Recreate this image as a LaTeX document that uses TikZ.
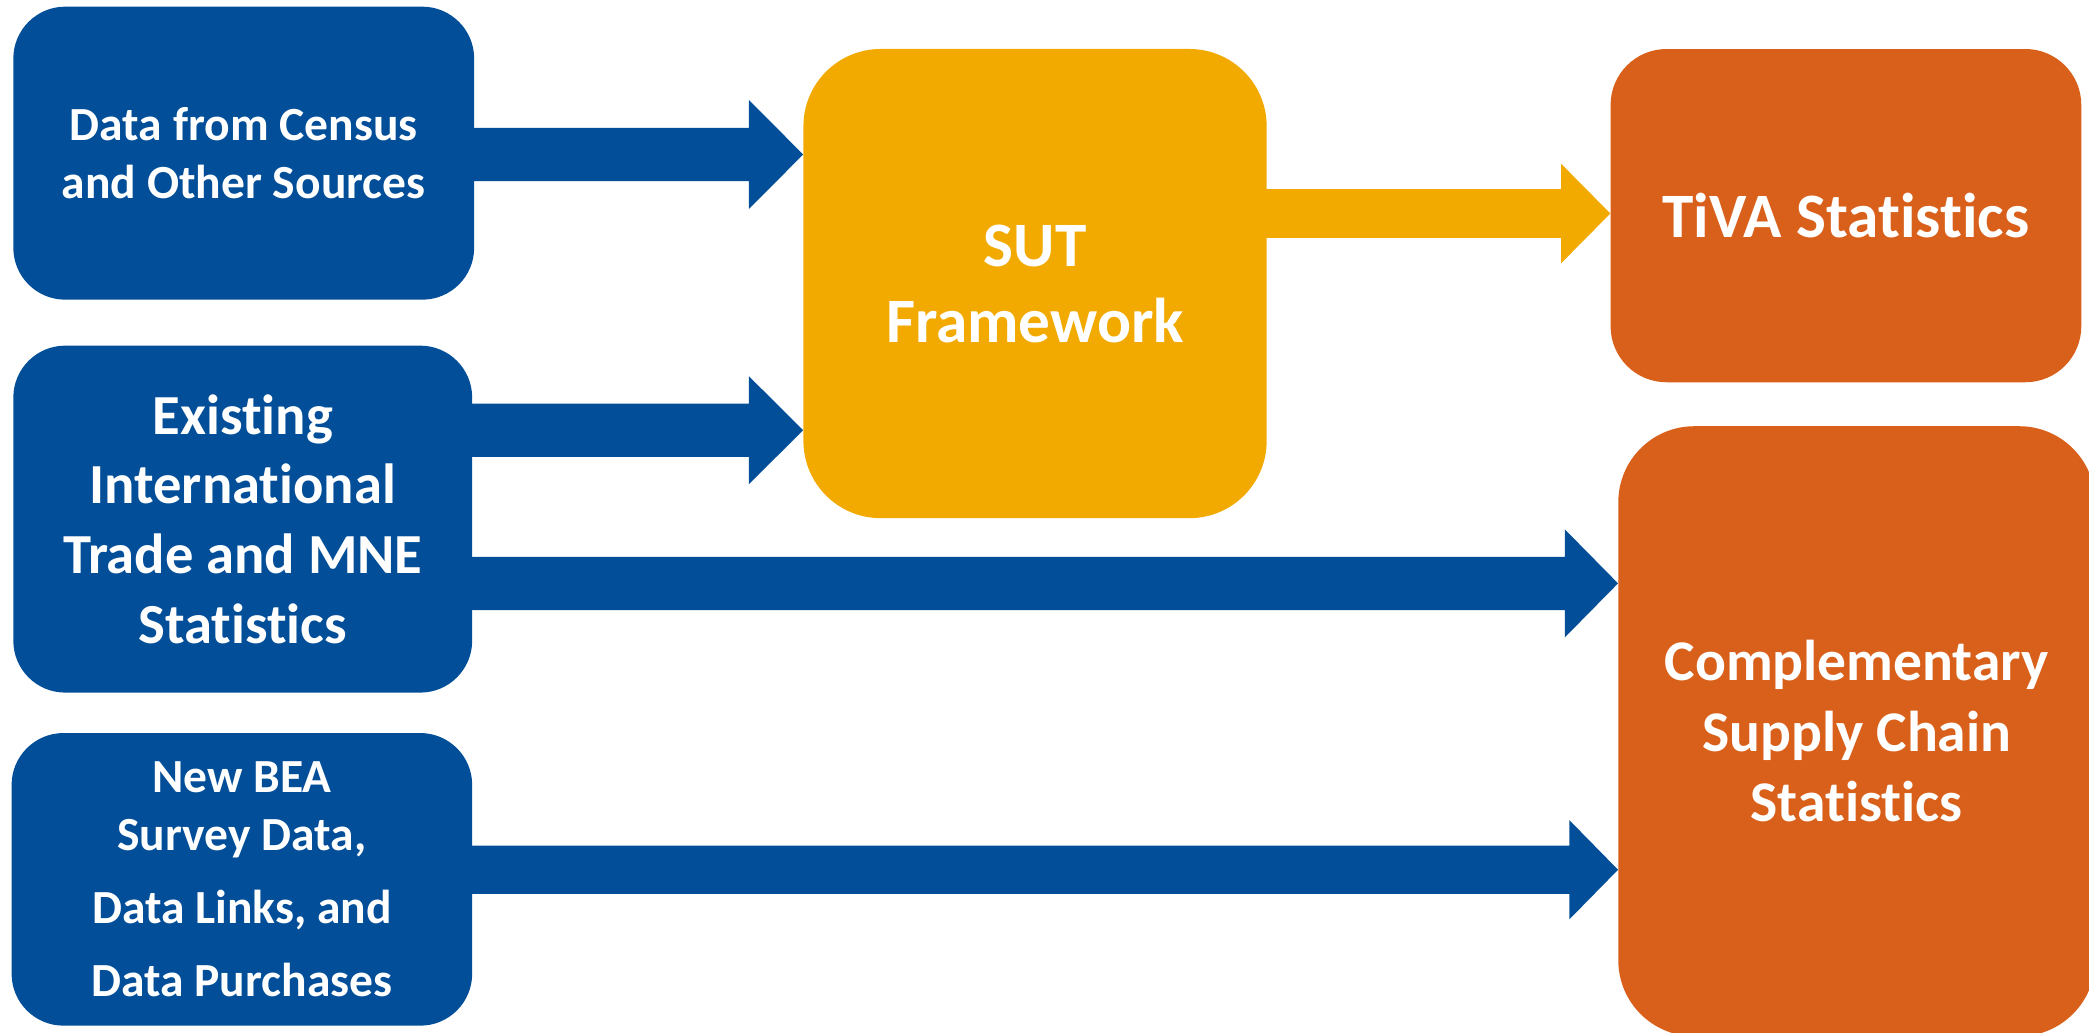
\documentclass[tikz,border=0pt]{standalone}
\usepackage{fontspec}
\setmainfont{Carlito}[RawFeature={-liga;-clig;-calt;-dlig}]
\usetikzlibrary{calc}
\definecolor{beablue}{RGB}{2,78,152}
\definecolor{beagold}{RGB}{242,170,0}
\definecolor{beaorange}{RGB}{217,96,26}
% t followed by i without the Carlito "ti" ligature
\newcommand{\nolig}{\kern0pt}
% #1 colour, #2 source node, #3 target node, #4 y of axis, #5 half body, #6 half head, #7 head length
\newcommand{\blockarrow}[7]{%
  \fill[#1] ($(#2.east|-0,#4)+(-1,-#5)$) -- ($(#3.west|-0,#4)+(-#7,-#5)$)
    -- ($(#3.west|-0,#4)+(-#7,-#6)$) -- (#3.west|-0,#4)
    -- ($(#3.west|-0,#4)+(-#7,#6)$) -- ($(#3.west|-0,#4)+(-#7,#5)$)
    -- ($(#2.east|-0,#4)+(-1,#5)$) -- cycle;}
\begin{document}
\begin{tikzpicture}[x=1pt,y=-1pt,
  box/.style={inner sep=0pt, align=center, text=white}]
\useasboundingbox (0,0) rectangle (1568.4,775.5);
\clip (0,0) rectangle (1568.4,775.5);
% left blue boxes
\node[box, fill=beablue, minimum width=346pt, minimum height=220pt, rounded corners=39pt,
  font=\fontsize{35.7}{43.3}\selectfont\bfseries] (b1) at (183,115)
  {Data from Census\\and Other Sources};
\node[box, fill=beablue, minimum width=344.5pt, minimum height=260.5pt, rounded corners=39pt,
  font=\fontsize{42.5}{52.4}\selectfont\bfseries] (b2) at (182.25,389.75)
  {Exist\nolig ing\\Internat\nolig ional\\Trade and MNE\\Statist\nolig ics};
\node[box, fill=beablue, minimum width=345.8pt, minimum height=219.7pt, rounded corners=39pt,
  font=\fontsize{35.7}{55}\selectfont\bfseries] (b3) at (181.6,660.2)
  {New BEA\\[-11.6pt]Survey Data,\\Data Links, and\\Data Purchases};
% SUT framework
\node[box, fill=beagold, minimum width=347.8pt, minimum height=352.25pt, rounded corners=58pt,
  font=\fontsize{47.5}{57}\selectfont\bfseries] (sut) at (777.1,212.9)
  {SUT\\Framework};
% outputs
\node[box, fill=beaorange, minimum width=353.4pt, minimum height=250.2pt, rounded corners=42pt,
  font=\fontsize{47.5}{57}\selectfont\bfseries] (tiva) at (1385.9,161.9)
  {TiVA Statist\nolig ics};
\node[box, fill=beaorange, minimum width=358pt, minimum height=458pt, rounded corners=57pt,
  font=\fontsize{43.2}{53}\selectfont\bfseries] (comp) at (1394,549)
  {Complementary\\Supply Chain\\Statist\nolig ics};
% block arrows
\blockarrow{beablue}{b1}{sut}{116}{20}{41}{40.8}
\blockarrow{beablue}{b2}{sut}{323}{20}{40.6}{40.8}
\blockarrow{beablue}{b2}{comp}{438}{20}{40.6}{40}
\blockarrow{beagold}{sut}{tiva}{160.3}{18.3}{37.3}{36.9}
\blockarrow{beablue}{b3}{comp}{653}{18.1}{37.2}{36.5}
\end{tikzpicture}
\end{document}
